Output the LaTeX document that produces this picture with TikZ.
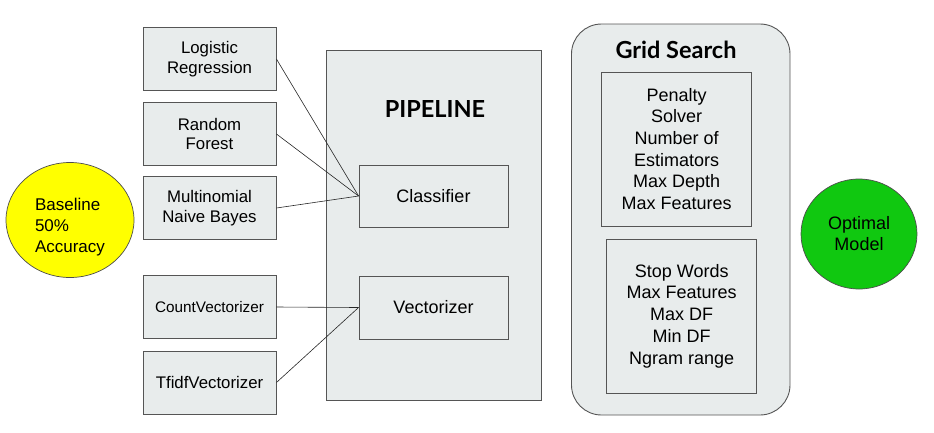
\documentclass[tikz,border=0pt]{standalone}
\usepackage{fontspec}
\setmainfont{Liberation Sans}
\newfontfamily\titlefont{Lato}
\usetikzlibrary{shapes.geometric, positioning}
\definecolor{boxgray}{HTML}{E8ECEC}
\definecolor{edgegray}{HTML}{555555}
\definecolor{baseyellow}{HTML}{FFFF00}
\definecolor{optgreen}{HTML}{10C810}

\begin{document}
\begin{tikzpicture}[x=1pt,y=-1pt,
	box/.style={draw=edgegray,fill=boxgray,line width=0.9pt,inner sep=0pt,align=center,
		minimum width=133pt,minimum height=63pt,font=\fontsize{16.8}{19.5}\selectfont},
	stage/.style={box,minimum width=149pt,minimum height=62pt,font=\fontsize{18}{21}\selectfont},
	params/.style={box,minimum width=150pt,minimum height=154pt,font=\fontsize{18}{21.7}\selectfont},
	blob/.style={ellipse,draw=black!70,line width=0.7pt,inner sep=0pt,align=center},
	title/.style={font=\titlefont\bfseries\fontsize{23.5}{26}\selectfont},
	wire/.style={draw=black!85,line width=0.6pt}]
	\useasboundingbox (0,0) rectangle (934,432);

	% baseline and result
	\node[blob, fill=baseyellow, minimum width=128pt, minimum height=115pt] (base) at (70,220) {};
	\node[align=left, inner sep=0pt, font=\fontsize{17}{21}\selectfont] (basetext) at (70,227) {Baseline\\50\%\\Accuracy};
	\node[blob, fill=optgreen, minimum width=116pt, minimum height=110pt,
		font=\fontsize{18}{21}\selectfont] (opt) at (859,234) {Optimal\\Model};

	% pipeline
	\node[box, minimum width=215pt, minimum height=350pt] (pipe) at (433.5,225) {};
	\node[title] (pipetitle) at (435,109) {PIPELINE};
	\node[stage] (clf) at (433.5,196) {Classifier};
	\node[stage, minimum height=63pt] (vec) at (433.5,307.5) {Vectorizer};

	% models
	\node[box] (lr) at (209.5,59) {Logistic\\Regression};
	\node[box] (rf) at (209.5,134) {Random\\Forest};
	\node[box] (mnb) at (209.5,208) {Multinomial\\Naive Bayes};
	\node[box, font=\fontsize{15.3}{18}\selectfont] (cv) at (209.5,307) {CountVectorizer};
	\node[box] (tv) at (209.5,382.5) {TfidfVectorizer};

	% grid search
	\node[box, rounded corners=30pt, minimum width=218.5pt, minimum height=391pt] (grid) at (680.75,219.5) {};
	\node[title] (gridtitle) at (676,50) {Grid Search};
	\node[params] (clfpar) at (676.7,149) {Penalty\\Solver\\Number of\\Estimators\\Max Depth\\Max Features};
	\node[params] (vecpar) at (681.7,316) {Stop Words\\Max Features\\Max DF\\Min DF\\Ngram range};

	\path[wire]
		(lr.east) edge (clf.west)
		(rf.east) edge (clf.west)
		(mnb.east) edge (clf.west)
		(cv.east) edge (vec.west)
		(tv.east) edge (vec.west);
\end{tikzpicture}
\end{document}
